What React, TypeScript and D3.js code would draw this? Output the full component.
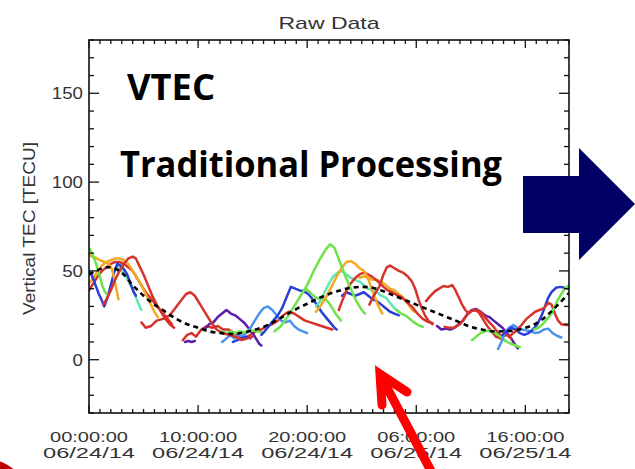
import React from "react";
import * as d3 from "d3";

// ---------- data (hours since 06/24/14 00:00, VTEC in TECU) ----------
const xTickHours = [0, 10, 20, 30, 40];
const xTickTimes = ["00:00:00", "10:00:00", "20:00:00", "06:00:00", "16:00:00"];
const xTickDates = ["06/24/14", "06/24/14", "06/24/14", "06/25/14", "06/25/14"];
const yTickValues = [0, 50, 100, 150];
const yTickLabels = ["0", "50", "100", "150"];

const meanCurve: [number, number][] = [
  [0, 48], [1, 51], [2, 52], [3, 49], [4, 42], [5, 36], [6, 31], [7, 27], [8, 23], [9, 20],
  [10, 18], [11, 16], [12, 15], [13, 14.5], [14, 15], [15, 16.5], [16, 18.5], [17, 21.5], [18, 25],
  [19, 28.5], [20, 31.5], [21, 34.5], [22, 37], [23, 39], [24, 40.5], [25, 41], [26, 40.5], [27, 38.5],
  [28, 36], [29, 33.5], [30, 31], [31, 28.5], [32, 26], [33, 23.5], [34, 21], [35, 18.5], [36, 17],
  [37, 16], [38, 16], [39, 16.5], [40, 18], [41, 20.5], [42, 25], [43, 31], [44, 37.5],
];

const green1: [number, number][] = [[0, 63], [0.2, 61], [0.4, 58], [0.6, 55], [0.8, 51], [1.0, 47], [1.2, 42], [1.4, 39], [1.6, 37]];
const blue1: [number, number][] = [[0, 50], [0.3, 47], [0.6, 42], [0.9, 37], [1.2, 33], [1.4, 30], [1.7, 35], [2.0, 42], [2.3, 49], [2.6, 54], [2.9, 53], [3.2, 51], [3.5, 48], [3.8, 43], [4.1, 38], [4.3, 36]];
const orange1: [number, number][] = [[0, 59], [0.3, 58], [0.6, 57.5], [1, 56], [1.4, 55], [1.8, 54], [2.1, 51], [2.3, 46], [2.5, 40], [2.7, 34]];
const orange2: [number, number][] = [[0, 43], [0.4, 46], [0.8, 50], [1.2, 53], [1.6, 55], [2, 56], [2.4, 57], [2.8, 57], [3.2, 56], [3.6, 54], [4, 50], [4.4, 46], [4.8, 42], [5.2, 37], [5.6, 32], [6, 27], [6.3, 24]];
const red1: [number, number][] = [[0, 39], [0.4, 43], [0.8, 47], [1.2, 50], [1.6, 52], [2, 54], [2.4, 55], [2.8, 55], [3.2, 54], [3.6, 52], [4, 50], [4.4, 46], [4.8, 42], [5.2, 38], [5.6, 35], [6, 32], [6.4, 29], [6.8, 26], [7.2, 23], [7.6, 20]];
const red2: [number, number][] = [[1.3, 31], [1.6, 34], [2, 39], [2.4, 45], [2.8, 50], [3.2, 54], [3.6, 57], [4, 58], [4.3, 57], [4.6, 53], [5, 48], [5.4, 42], [5.8, 36], [6.2, 31], [6.6, 27], [7, 23], [7.4, 20], [7.8, 18]];
const aqua1: [number, number][] = [[2.6, 53], [3, 50], [3.4, 47], [3.8, 42], [4.2, 37], [4.5, 32], [4.8, 28]];
const red3: [number, number][] = [[4.8, 21], [5.2, 18], [5.7, 19], [6.2, 22], [6.8, 23], [7.4, 25], [7.9, 29], [8.4, 33], [8.9, 37], [9.3, 38], [9.7, 36], [10.2, 31], [10.7, 26], [11.2, 21], [11.7, 17], [12.2, 15], [12.8, 14], [13.4, 13], [14, 11], [14.5, 12], [15, 13]];
const purple1: [number, number][] = [[8.8, 10], [9.1, 10.5], [9.4, 10], [9.7, 10.5]];
const purple2: [number, number][] = [[10.6, 17], [11, 20], [11.4, 21], [11.8, 24], [12.2, 26], [12.6, 28], [13, 26], [13.4, 25], [13.8, 23], [14.2, 21], [14.6, 18], [15, 15], [15.3, 12], [15.6, 9], [15.8, 8]];
const lightblue1: [number, number][] = [[12.2, 10], [12.6, 12], [13, 14], [13.3, 12], [13.7, 14], [14, 13], [14.4, 15], [14.8, 18], [15.2, 22], [15.6, 26], [16, 29], [16.4, 30], [16.8, 28], [17.2, 25], [17.6, 22], [18, 21], [18.4, 22], [18.8, 19], [19.2, 17], [19.6, 16], [20, 15]];
const green2: [number, number][] = [[12.2, 16], [12.6, 15], [13, 16], [13.4, 15], [13.8, 16], [14.2, 15.5], [14.6, 16], [15, 16.5], [15.4, 16], [15.8, 15.5]];
const blue2: [number, number][] = [[13.2, 10], [13.6, 11], [14, 12], [14.4, 13], [14.8, 12]];
const blue3: [number, number][] = [[15.8, 14], [16.1, 16], [16.5, 19], [16.9, 22], [17.3, 25], [17.7, 29], [18.1, 35], [18.5, 41], [18.9, 40], [19.3, 39], [19.7, 38.5], [20.1, 37], [20.5, 34], [20.9, 31], [21.3, 27], [21.7, 24], [22.1, 21], [22.5, 18], [22.7, 17]];
const red4: [number, number][] = [[8.6, 11], [9, 14], [9.4, 15], [9.8, 13], [10.3, 17], [10.8, 19], [11.3, 18], [11.8, 19], [12.3, 17], [12.8, 17], [13.3, 15], [13.8, 13], [14.3, 12], [14.8, 14], [15.3, 16], [15.8, 17], [16.3, 19], [16.8, 20], [17.3, 22], [17.8, 25], [18.3, 27], [18.8, 26], [19.3, 24], [19.8, 22], [20.3, 21], [20.8, 20], [21.3, 19], [21.8, 18], [22.3, 17]];
const green3: [number, number][] = [[17, 16], [17.6, 19], [18.2, 24], [18.8, 30], [19.4, 36], [20, 42], [20.6, 50], [21.2, 57], [21.7, 62], [22.1, 65], [22.5, 63], [23, 55], [23.5, 47], [24, 40], [24.5, 33], [25, 28], [25.3, 26]];
const green4: [number, number][] = [[19.9, 40], [20.4, 37], [20.8, 35], [21.2, 34], [21.6, 34.5], [22, 32], [22.3, 29], [22.7, 25], [23.1, 22]];
const aqua2: [number, number][] = [[20.8, 30], [21.2, 33], [21.6, 38], [22, 43], [22.4, 47], [22.8, 49], [23.2, 50], [23.6, 48], [24, 46], [24.4, 45], [24.8, 44], [25.2, 42], [25.6, 40], [26, 39], [26.4, 38], [26.8, 36], [27.2, 35], [27.6, 32], [28, 29], [28.4, 27]];
const orange3: [number, number][] = [[20.8, 27], [21.3, 31], [21.8, 36], [22.3, 42], [22.8, 48], [23.2, 52], [23.6, 55], [24, 55.5], [24.4, 54], [24.8, 51.5], [25.2, 50], [25.5, 47], [25.8, 42], [26.1, 37], [26.4, 32], [26.7, 28], [26.9, 26]];
const orange4: [number, number][] = [[24.8, 46], [25.2, 47], [25.6, 46], [26, 45], [26.4, 45], [26.8, 44], [27.2, 42], [27.6, 40], [28, 39], [28.4, 37], [28.8, 35], [29.2, 32], [29.5, 29], [29.8, 27]];
const blue4: [number, number][] = [[23.2, 36], [23.6, 38], [24, 37], [24.4, 36], [24.8, 37], [25.2, 38], [25.6, 36], [26, 34], [26.4, 33], [26.8, 31], [27.2, 29], [27.6, 27], [28, 26], [28.4, 25]];
const red5: [number, number][] = [[22.9, 28], [23.2, 33], [23.6, 39], [24, 43], [24.4, 46], [24.8, 48], [25.2, 49], [25.6, 48], [26, 46.5], [26.5, 44], [27, 41], [27.4, 39], [27.8, 38], [28.2, 36.5], [28.7, 35], [29.2, 32], [29.6, 30], [30.1, 26], [30.6, 23], [31, 21.5], [31.5, 20.5]];
const red6: [number, number][] = [[25.7, 31], [26.1, 36], [26.6, 41], [27, 48], [27.3, 52], [27.6, 53], [28, 51.5], [28.4, 50], [28.8, 49], [29.2, 47], [29.6, 44], [29.9, 40], [30.2, 34], [30.5, 29], [30.8, 25], [31.1, 22], [31.5, 20]];
const green5: [number, number][] = [[28.2, 28], [28.6, 26], [29, 25], [29.4, 23], [29.8, 21], [30.2, 19.5], [30.6, 18.5]];
const red7: [number, number][] = [[30.9, 33], [31.3, 36], [31.7, 38.5], [32.1, 40], [32.5, 41.5], [32.9, 41], [33.3, 42], [33.6, 39], [33.9, 35], [34.2, 31], [34.5, 28], [34.8, 26], [35.1, 27.5], [35.5, 28], [35.9, 27], [36.3, 24], [36.7, 21], [37.1, 18.5], [37.5, 15], [37.9, 13], [38.3, 14], [38.7, 12]];
const purple3: [number, number][] = [[31.9, 19], [32.3, 17], [32.7, 17.5], [33.1, 17], [33.5, 18], [33.9, 20], [34.3, 22], [34.7, 26], [35.1, 28], [35.5, 28.5], [35.9, 27], [36.3, 25], [36.7, 24], [37.1, 22], [37.5, 20], [37.9, 18], [38.3, 15], [38.7, 12], [39.1, 8], [39.3, 6.5]];
const red8: [number, number][] = [[32.6, 18.5], [33, 18], [33.5, 18.2], [34, 20], [34.5, 24], [34.9, 27], [35.3, 28], [35.7, 27], [36.1, 23], [36.5, 19], [36.9, 16], [37.3, 13], [37.7, 12], [38.1, 11]];
const green6: [number, number][] = [[35.1, 11], [35.5, 13], [35.9, 15], [36.3, 16], [36.7, 16.5], [37.1, 15.5], [37.5, 14], [37.9, 12], [38.3, 10], [38.7, 9], [39.1, 8], [39.5, 7]];
const lightblue2: [number, number][] = [[37.5, 6], [37.8, 10], [38.1, 15], [38.5, 18], [38.9, 19.5], [39.3, 18], [39.7, 17], [40.1, 16.5], [40.5, 16], [40.9, 15], [41.3, 15.5], [41.7, 17], [42.1, 17.5], [42.5, 15], [42.9, 13.5], [43.3, 12.5]];
const blue5: [number, number][] = [[37.9, 14], [38.3, 16], [38.7, 18], [39.1, 17], [39.5, 15], [39.9, 14], [40.3, 15], [40.7, 17], [41.1, 20], [41.5, 25], [41.8, 30], [42.1, 35], [42.4, 38], [42.8, 40.5], [43.2, 41], [43.6, 40.5], [44, 40]];
const red9: [number, number][] = [[38.5, 13], [38.9, 15], [39.3, 17], [39.7, 20], [40.1, 23], [40.5, 25], [40.9, 27], [41.3, 28], [41.7, 29], [42.1, 32], [42.4, 31], [42.7, 26], [43, 22], [43.3, 20], [43.7, 19.5], [44, 19.5]];
const green7: [number, number][] = [[40.8, 17], [41.2, 18], [41.6, 20], [42, 23], [42.4, 26], [42.7, 30], [43, 34], [43.3, 37], [43.6, 40], [44, 42]];

// drawing order and colour key of each arc
const arcs: [string, [number, number][]][] = [
  ["red", red4], ["purple", purple1], ["purple", purple2], ["lightblue", lightblue1], ["green", green2],
  ["blue", blue2], ["red", red3], ["blue", blue3], ["red", red1], ["orange", orange2], ["aqua", aqua1],
  ["blue", blue1], ["orange", orange1], ["red", red2], ["green", green1], ["green", green4], ["aqua", aqua2],
  ["blue", blue4], ["orange", orange4], ["red", red5], ["orange", orange3], ["green", green3], ["red", red6],
  ["green", green5], ["purple", purple3], ["red", red8], ["red", red7], ["green", green6], ["lightblue", lightblue2],
  ["blue", blue5], ["red", red9], ["green", green7],
];

const palette: Record<string, string> = {
  red: "#d5332c",
  blue: "#2a3fd6",
  lightblue: "#4b93ee",
  green: "#6ee34a",
  aqua: "#62e6b4",
  orange: "#f2aa22",
  purple: "#5a1db0",
};

// ---------- layout ----------
const W = 635;
const H = 469;
const L = 89, R = 569, T = 40, B = 413;
const AXIS_FONT = "'Liberation Sans', Arial, sans-serif";
const AXIS_FILL = "#333";

export default function App() {
  const x = d3.scaleLinear().domain([0, 44]).range([L, R]);
  const y = d3.scaleLinear().domain([-30, 180]).range([B, T]);
  const line = d3.line<[number, number]>().x((d) => x(d[0])).y((d) => y(d[1])).curve(d3.curveLinear);
  const meanLine = d3.line<[number, number]>().x((d) => x(d[0])).y((d) => y(d[1])).curve(d3.curveCatmullRom);

  const xMinor = d3.range(0, 45, 1);
  const yMinor = d3.range(-30, 181, 10);

  return (
    <svg width={W} height={H} viewBox={`0 0 ${W} ${H}`} style={{ position: "absolute", left: 0, top: 0, background: "#fff" }}>
      <defs>
        <clipPath id="plotclip">
          <rect x={L} y={T} width={R - L} height={B - T} />
        </clipPath>
      </defs>
      <rect x={0} y={0} width={W} height={H} fill="#fff" />

      {/* title */}
      <text x={(L + R) / 2} y={29} textAnchor="middle" fontFamily={AXIS_FONT} fontSize={17} fill={AXIS_FILL} textLength={101} lengthAdjust="spacingAndGlyphs">Raw Data</text>

      {/* data */}
      <g clipPath="url(#plotclip)">
        {arcs.map(([c, pts], i) => (
          <path key={i} d={line(pts) || ""} fill="none" stroke={palette[c]} strokeWidth={2.5} strokeLinejoin="round" strokeLinecap="round" />
        ))}
        <path d={meanLine(meanCurve) || ""} fill="none" stroke="#000" strokeWidth={2.6} strokeDasharray="5,4" />
      </g>

      {/* frame */}
      <rect x={L} y={T} width={R - L} height={B - T} fill="none" stroke="#111" strokeWidth={1.6} />

      {/* x ticks bottom & top */}
      {xMinor.map((h) => {
        const major = xTickHours.includes(h);
        const len = major ? 8 : 4;
        return (
          <g key={"xt" + h}>
            <line x1={x(h)} x2={x(h)} y1={B} y2={B - len} stroke="#111" strokeWidth={1.3} />
            <line x1={x(h)} x2={x(h)} y1={T} y2={T + len} stroke="#111" strokeWidth={1.3} />
          </g>
        );
      })}
      {/* y ticks left & right */}
      {yMinor.map((v) => {
        const major = yTickValues.includes(v);
        const len = major ? 10 : 5;
        return (
          <g key={"yt" + v}>
            <line x1={L} x2={L + len} y1={y(v)} y2={y(v)} stroke="#111" strokeWidth={1.3} />
            <line x1={R} x2={R - len} y1={y(v)} y2={y(v)} stroke="#111" strokeWidth={1.3} />
          </g>
        );
      })}

      {/* x tick labels */}
      {xTickHours.map((h, i) => (
        <g key={"xl" + h} fontFamily={AXIS_FONT} fontSize={15} fill={AXIS_FILL} textAnchor="middle">
          <text x={x(h)} y={441.5} textLength={78} lengthAdjust="spacingAndGlyphs">{xTickTimes[i]}</text>
          <text x={x(h)} y={457.5} textLength={92} lengthAdjust="spacingAndGlyphs">{xTickDates[i]}</text>
        </g>
      ))}

      {/* y tick labels */}
      {yTickValues.map((v, i) => (
        <text key={"yl" + v} x={83} y={y(v) + 6} textAnchor="end" fontFamily={AXIS_FONT} fontSize={16.5} fill={AXIS_FILL}
          textLength={yTickLabels[i].length * 10.4} lengthAdjust="spacingAndGlyphs">{yTickLabels[i]}</text>
      ))}

      {/* y axis title */}
      <text transform="translate(35,228.5) rotate(-90)" textAnchor="middle" fontFamily={AXIS_FONT} fontSize={16} fill={AXIS_FILL}
        textLength={173} lengthAdjust="spacingAndGlyphs">Vertical TEC [TECU]</text>

      {/* overlay annotations */}
      <text x={127} y={100} fontFamily="'Open Sans', sans-serif" fontWeight={700} fontSize={36} fill="#000" textLength={88} lengthAdjust="spacingAndGlyphs">VTEC</text>
      <text x={120} y={177} fontFamily="'Open Sans', sans-serif" fontWeight={700} fontSize={35} fill="#000" textLength={382} lengthAdjust="spacingAndGlyphs">Traditional Processing</text>

      {/* navy block arrow */}
      <polygon points="523,176 579,176 579,148 635,204 579,260 579,233 523,233" fill="#000066" />

      {/* red pointer arrow */}
      <g stroke="#ff0000" strokeWidth={9} fill="none" strokeLinecap="round">
        <line x1={383} x2={440} y1={380} y2={488} />
        <path d="M407,392 L380,374 L382,405" strokeLinejoin="miter" />
      </g>

      {/* red partial disc at bottom-left */}
      <circle cx={-10} cy={495} r={35} fill="#c00000" />
    </svg>
  );
}
